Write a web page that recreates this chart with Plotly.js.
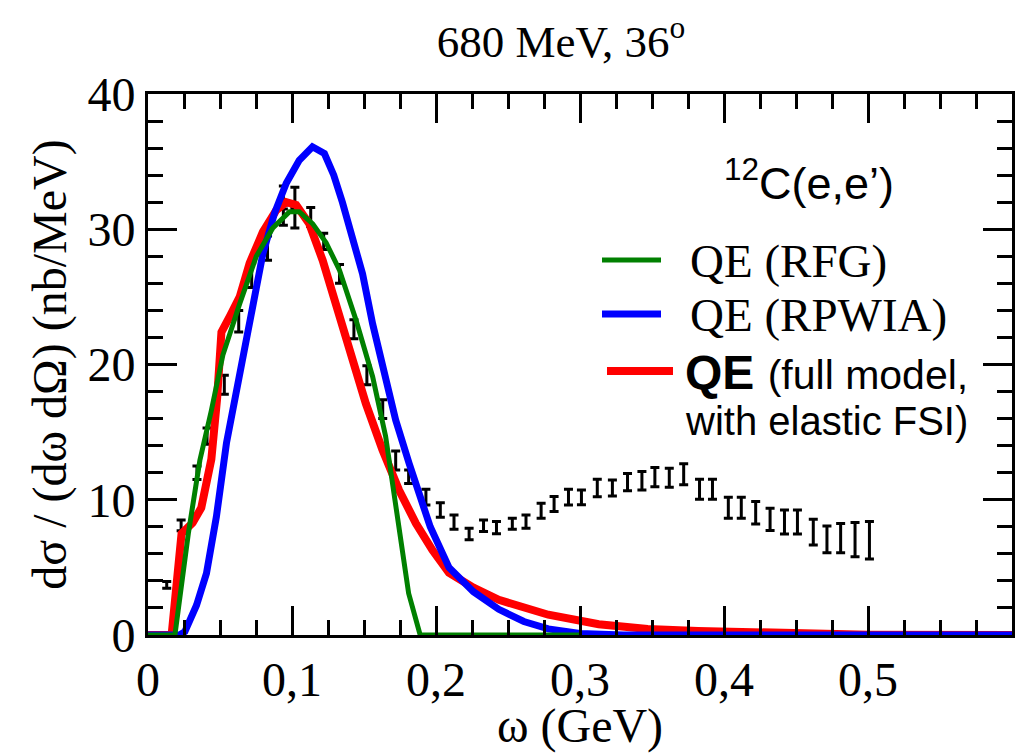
<!DOCTYPE html>
<html>
<head>
<meta charset="utf-8">
<script src="https://cdn.plot.ly/plotly-3.0.1.min.js"></script>
<style>html,body{margin:0;padding:0;background:#fff;}#chart{width:1018px;height:753px;}</style>
</head>
<body>
<div id="chart"></div>
<script>
// Experimental data: omega (GeV), cross section (nb/MeV), error
var dataOmega = [0.013,0.023,0.034,0.041,0.053,0.063,0.072,0.083,0.094,0.102,0.094,0.102,0.113,0.122,0.133,0.143,0.152,0.163,0.172,0.181,0.193,
  0.203,0.2125,0.223,0.233,0.242,0.253,0.2625,0.273,0.282,0.292,0.301,0.312,0.3225,0.333,0.343,0.352,0.362,0.372,0.383,0.392,0.403,0.412,0.422,0.432,0.442,0.451,0.462,0.4715,0.481,0.491,0.501];
var dataSigma = [3.7,8.1,12.0,14.7,18.5,23.2,26.6,28.6,32.5,32.4,30.9,30.8,30.9,29.1,26.7,22.6,19.2,16.7,12.9,11.7,10.2,
  9.24,8.35,7.47,8.08,7.94,8.23,8.38,9.19,9.69,10.2,10.18,10.87,10.87,11.31,11.41,11.68,11.63,11.88,10.77,10.77,9.41,9.41,9.04,8.55,8.35,8.35,7.61,7.07,7.17,7.05,7.0];
var dataError = [0.25,0.4,0.5,0.6,0.7,0.8,0.9,0.9,0.7,0.7,0.6,0.7,0.7,0.6,0.7,0.7,0.7,0.7,0.7,0.5,0.58,
  0.54,0.53,0.43,0.43,0.46,0.41,0.49,0.55,0.55,0.58,0.55,0.64,0.59,0.64,0.68,0.71,0.70,0.78,0.74,0.74,0.78,0.78,0.83,0.83,0.89,0.89,0.95,0.99,1.08,1.26,1.39];

// QE (RFG) - green
var rfgOmega = [0,0.0187,0.028,0.036,0.044,0.052,0.0637,0.0752,0.0867,0.0983,0.105,0.1144,0.1237,0.1329,0.1444,0.156,0.165,0.172,0.181,0.189,0.3];
var rfgSigma = [0,0,7.5,12.9,16.6,20.7,24.5,28.0,30.1,31.3,31.3,30.4,29.0,27.0,23.3,19.1,14.7,9.74,3.08,0,0];

// QE (RPWIA) - blue
var rpwiaOmega = [0,0.022,0.0256,0.0337,0.0406,0.0475,0.0545,0.066,0.0729,0.0798,0.0879,0.096,0.105,0.1142,0.1225,0.129,0.135,0.1421,0.149,0.156,0.164,0.172,0.1813,0.188,0.196,0.209,0.226,0.2436,0.261,0.278,0.3,0.33,0.6];
var rpwiaSigma = [0,0,0.25,2.2,4.56,8.75,14.2,20.3,24.5,28.2,31.2,33.4,35.1,36.1,35.6,34.0,32.0,29.2,26.7,23.0,19.35,15.9,12.7,10.5,8.0,5.0,3.2,1.9,1.0,0.45,0.12,0,0];

// QE (full model, with elastic FSI) - red
var fullOmega = [0,0.0164,0.0233,0.031,0.037,0.044,0.048,0.051,0.057,0.0637,0.0706,0.0798,0.089,0.096,0.1029,0.112,0.1213,0.1306,0.1398,0.1513,0.1628,0.1744,0.186,0.1975,0.209,0.226,0.2436,0.261,0.278,0.313,0.347,0.382,0.45,0.5,0.6];
var fullSigma = [0,0,7.5,8.3,9.4,13.0,17.5,22.4,23.6,25.0,27.5,29.8,31.4,32.0,31.8,30.4,27.7,24.5,21.1,17.1,13.7,10.7,8.26,6.28,4.6,3.5,2.6,2.0,1.5,0.8,0.45,0.3,0.08,0.02,0];

var xTickVals = [0,0.1,0.2,0.3,0.4,0.5];
var xTickText = ["0","0,1","0,2","0,3","0,4","0,5"];
var yTickVals = [0,10,20,30,40];

var serif = "Liberation Serif, Times New Roman, serif";
var sans = "Liberation Sans, Arial, sans-serif";

var traces = [
  {x: dataOmega, y: dataSigma, type: 'scatter', mode: 'markers',
   marker: {size: 1, color: 'rgba(0,0,0,0)'},
   error_y: {type: 'data', array: dataError, visible: true, color: '#000', thickness: 3, width: 4.5},
   showlegend: false},
  {x: fullOmega, y: fullSigma, type: 'scatter', mode: 'lines', line: {color: '#ff0000', width: 8}, showlegend: false},
  {x: rpwiaOmega, y: rpwiaSigma, type: 'scatter', mode: 'lines', line: {color: '#0000ff', width: 7}, showlegend: false},
  {x: rfgOmega, y: rfgSigma, type: 'scatter', mode: 'lines', line: {color: '#008000', width: 5}, showlegend: false}
];

function px2x(p){ return (p-148)/864; }
function px2y(p){ return (635-p)/541; }

var layout = {
  width: 1018, height: 753,
  margin: {l: 148, r: 6, t: 94, b: 118},
  paper_bgcolor: '#fff', plot_bgcolor: '#fff',
  showlegend: false,
  title: {text: "680 MeV, 36<sup>o</sup>", font: {family: serif, size: 45, color: '#000'},
          x: 561/1018, xanchor: 'center', y: 1-41/753, yanchor: 'middle'},
  xaxis: {
    range: [0, 0.6], showgrid: false, zeroline: false,
    showline: true, linecolor: '#000', linewidth: 3, mirror: 'ticks',
    ticks: 'inside', ticklen: 29, tickwidth: 3, tickcolor: '#000',
    tickmode: 'array', tickvals: xTickVals, ticktext: xTickText,
    tickfont: {family: serif, size: 48, color: '#000'},
    minor: {dtick: 0.025, ticks: 'inside', ticklen: 15, tickwidth: 3, tickcolor: '#000', showgrid: false},
    title: {text: "ω (GeV)", font: {family: serif, size: 48, color: '#000'}, standoff: 2}
  },
  yaxis: {
    range: [0, 40], showgrid: false, zeroline: false,
    showline: true, linecolor: '#000', linewidth: 3, mirror: 'ticks',
    ticks: 'inside', ticklen: 29, tickwidth: 3, tickcolor: '#000',
    tickmode: 'array', tickvals: yTickVals,
    tickfont: {family: serif, size: 48, color: '#000'},
    minor: {dtick: 2, ticks: 'inside', ticklen: 15, tickwidth: 3, tickcolor: '#000', showgrid: false},
    title: {text: "dσ / (dω dΩ) (nb/MeV)", font: {family: serif, size: 48, color: '#000'}, standoff: 6}
  },
  shapes: [
    {type: 'line', xref: 'paper', yref: 'paper', x0: px2x(602), x1: px2x(661), y0: px2y(260), y1: px2y(260), line: {color: '#008000', width: 5}},
    {type: 'line', xref: 'paper', yref: 'paper', x0: px2x(602), x1: px2x(661), y0: px2y(314), y1: px2y(314), line: {color: '#0000ff', width: 7}},
    {type: 'line', xref: 'paper', yref: 'paper', x0: px2x(607), x1: px2x(673), y0: px2y(371), y1: px2y(371), line: {color: '#ff0000', width: 8}}
  ],
  annotations: [
    {xref: 'paper', yref: 'paper', x: px2x(722), y: px2y(180), xanchor: 'left', yanchor: 'middle', showarrow: false,
     text: "<sup>12</sup>C(e,e’)", font: {family: sans, size: 45, color: '#000'}},
    {xref: 'paper', yref: 'paper', x: px2x(688), y: px2y(261), xanchor: 'left', yanchor: 'middle', showarrow: false,
     text: "QE (RFG)", font: {family: serif, size: 47, color: '#000'}},
    {xref: 'paper', yref: 'paper', x: px2x(688), y: px2y(315), xanchor: 'left', yanchor: 'middle', showarrow: false,
     text: "QE (RPWIA)", font: {family: serif, size: 47, color: '#000'}},
    {xref: 'paper', yref: 'paper', x: px2x(683), y: px2y(372), xanchor: 'left', yanchor: 'middle', showarrow: false,
     text: "<b>QE</b> <span style='font-size:41px'>(full model,</span>", font: {family: sans, size: 48, color: '#000'}},
    {xref: 'paper', yref: 'paper', x: px2x(683), y: px2y(421), xanchor: 'left', yanchor: 'middle', showarrow: false,
     text: "with elastic FSI)", font: {family: sans, size: 40, color: '#000'}}
  ]
};

Plotly.newPlot('chart', traces, layout, {staticPlot: true, displayModeBar: false});
</script>
</body>
</html>
